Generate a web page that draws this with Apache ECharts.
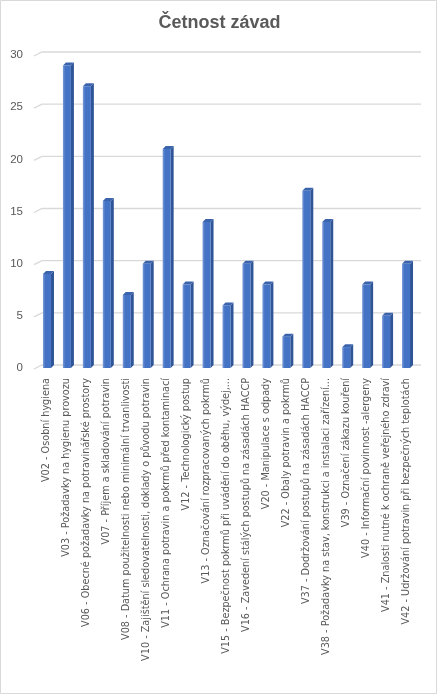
<!DOCTYPE html>
<html>
<head>
<meta charset="utf-8">
<title>Četnost závad</title>
<script src="https://cdn.jsdelivr.net/npm/echarts@6/dist/echarts.min.js"></script>
<style>
  html, body { margin: 0; padding: 0; background: #fff; }
  #chart { width: 439px; height: 696px; }
</style>
</head>
<body>
<div id="chart"></div>
<script>
// data
const categories = [
  'V02 - Osobní hygiena',
  'V03 - Požadavky na hygienu provozu',
  'V06 - Obecné požadavky na potravinářské prostory',
  'V07 - Příjem a skladování potravin',
  'V08 - Datum použitelnosti nebo minimální trvanlivosti',
  'V10 - Zajištění sledovatelnosti, doklady o původu potravin',
  'V11 - Ochrana potravin a pokrmů před kontaminací',
  'V12 - Technologický postup',
  'V13 - Označování rozpracovaných pokrmů',
  'V15 - Bezpečnost pokrmů při uvádění do oběhu, výdej,...',
  'V16 - Zavedení stálých postupů na zásadách HACCP',
  'V20 - Manipulace s odpady',
  'V22 - Obaly potravin a pokrmů',
  'V37 - Dodržování postupů na zásadách HACCP',
  'V38 - Požadavky na stav, konstrukci a instalaci zařízení...',
  'V39 - Označení zákazu kouření',
  'V40 - Informační povinnost -alergeny',
  'V41 - Znalosti nutné k ochraně veřejného zdraví',
  'V42 - Udržování potravin při bezpečných teplotách'
];
const counts = [9, 29, 27, 16, 7, 10, 21, 8, 14, 6, 10, 8, 3, 17, 14, 2, 8, 5, 10];
const yTicks = [0, 5, 10, 15, 20, 25, 30];

// 3D look: depth of bar side / back wall
const DX = 3, DY = 3;
const BAR_W = 8;

function renderBar(params, api) {
  const top = api.coord([api.value(0), api.value(1)]);
  const base = api.coord([api.value(0), 0]);
  const x = top[0] - BAR_W / 2;
  const y = top[1];
  const h = base[1] - top[1];
  return {
    type: 'group',
    children: [
      {
        type: 'polygon',
        shape: { points: [[x + BAR_W, y], [x + BAR_W + DX, y - DY], [x + BAR_W + DX, y + h - DY], [x + BAR_W, y + h]] },
        style: { fill: '#2f5597' }
      },
      {
        type: 'polygon',
        shape: { points: [[x, y], [x + DX, y - DY], [x + BAR_W + DX, y - DY], [x + BAR_W, y]] },
        style: { fill: '#3c64ad' }
      },
      {
        type: 'rect',
        shape: { x: x, y: y, width: BAR_W, height: h },
        style: {
          fill: new echarts.graphic.LinearGradient(0, 0, 1, 0, [
            { offset: 0, color: '#7c9bd8' },
            { offset: 0.3, color: '#4472c4' },
            { offset: 1, color: '#4472c4' }
          ])
        }
      }
    ]
  };
}

function renderGridLine(params, api) {
  const cs = params.coordSys;
  const y = api.coord([0, api.value(1)])[1] - DY;
  return {
    type: 'polyline',
    shape: { points: [[cs.x - 3, y + 4], [cs.x + 5, y], [cs.x + cs.width + 5, y]] },
    style: { stroke: '#d9d9d9', lineWidth: 1.3, fill: null }
  };
}

const chart = echarts.init(document.getElementById('chart'));
chart.setOption({
  backgroundColor: '#fff',
  animation: false,
  title: {
    text: 'Četnost závad',
    left: 'center',
    top: 9,
    textStyle: { fontFamily: 'Liberation Sans, Arial, sans-serif', fontSize: 18, fontWeight: 'bold', color: '#595959' }
  },
  graphic: [{
    type: 'rect',
    shape: { x: 0.5, y: 0.5, width: 436, height: 693 },
    style: { fill: null, stroke: '#d9d9d9', lineWidth: 1 },
    silent: true
  }],
  grid: { left: 37, right: 23, top: 55, bottom: 328, containLabel: false },
  xAxis: {
    type: 'category',
    data: categories,
    axisLine: { show: false },
    axisTick: { show: false },
    axisLabel: {
      interval: 0,
      rotate: 90,
      margin: 10,
      color: '#595959',
      fontFamily: 'DejaVu Sans, sans-serif',
      fontSize: 9.7
    }
  },
  yAxis: {
    type: 'value',
    min: 0,
    max: 30,
    interval: 5,
    splitLine: { show: false },
    axisLine: { show: false },
    axisTick: { show: false },
    axisLabel: {
      margin: 14,
      color: '#595959',
      fontFamily: 'Liberation Sans, Arial, sans-serif',
      fontSize: 11.5
    }
  },
  series: [
    {
      type: 'custom',
      z: 1,
      silent: true,
      clip: false,
      renderItem: renderGridLine,
      data: yTicks.map(v => [0, v])
    },
    {
      name: 'Četnost',
      type: 'custom',
      z: 2,
      clip: false,
      renderItem: renderBar,
      encode: { x: 0, y: 1 },
      data: counts.map((v, i) => [i, v])
    }
  ]
});
</script>
</body>
</html>
